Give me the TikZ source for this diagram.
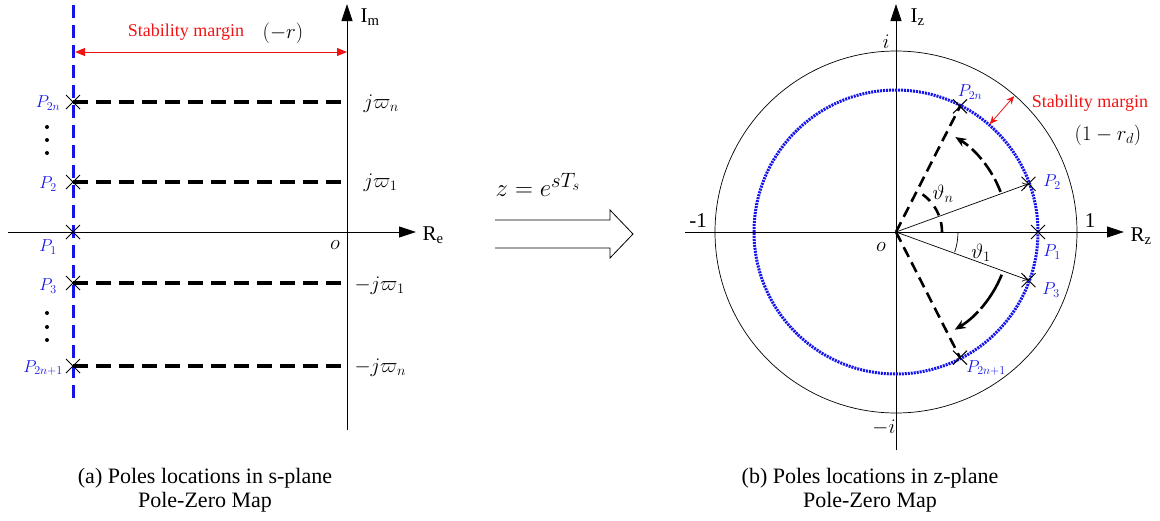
\documentclass[tikz,border=0pt]{standalone}
\usepackage{fontspec}
\setmainfont{Liberation Serif}
\usetikzlibrary{arrows.meta,shapes.misc}
\definecolor{pblue}{RGB}{20,20,235}
\definecolor{mred}{RGB}{240,20,20}
\tikzset{
  axis/.style={line width=0.8pt,-{Triangle[length=17pt,width=11pt]}},
  pole/.style={cross out,draw=black,line width=1pt,minimum size=13pt,inner sep=0pt},
  plab/.style={text=pblue,font=\fontsize{18}{20}\selectfont},
  lab/.style={font=\fontsize{21}{24}\selectfont},
  redtxt/.style={text=mred,font=\fontsize{18}{20}\selectfont},
  hdash/.style={line width=3.5pt,dash pattern=on 15pt off 8pt},
  bdash/.style={pblue,line width=3pt,dash pattern=on 13pt off 7pt},
  margin/.style={mred,line width=1pt,{Triangle[length=10pt,width=8pt]}-{Triangle[length=10pt,width=8pt]}},
  dotc/.style={pblue,line width=3pt,dash pattern=on 2pt off 1pt},
  ellip/.style={circle,fill=black,inner sep=0pt,minimum size=4pt},
  captxt/.style={font=\fontsize{22}{24}\selectfont,align=center}
}
\begin{document}
\begin{tikzpicture}[x=1pt,y=-1pt]
\useasboundingbox (0,0) rectangle (1160,520);
% ---------- left panel ----------
\coordinate (reL) at (8,232);
\coordinate (reR) at (416,232);
\coordinate (imB) at (347,430);
\coordinate (imT) at (347,4);
\draw[axis] (reL) -- (reR);
\draw[axis] (imB) -- (imT);
\node[lab,anchor=west] (Im) at (357,17) {I\textsubscript{m}};
\node[lab,anchor=west] (Re) at (419,235) {R\textsubscript{e}};
\node[lab] (o1) at (335,245) {$o$};
\coordinate (bT) at (73,5);
\coordinate (bB) at (73,405);
\draw[bdash] (bT) -- (bB);
\coordinate (mA) at (75,52);
\coordinate (mB) at (347,52);
\draw[margin] (mA) -- (mB);
\node[redtxt] (sm1) at (186,32) {Stability margin};
\node[lab] (mr) at (283,33) {$(-r)$};
% poles
\node[pole] (p2n) at (73,102) {};
\node[pole] (p2) at (73,182) {};
\node[pole] (p1) at (73,232) {};
\node[pole] (p3) at (73,283) {};
\node[pole] (p2n1) at (73,366) {};
\coordinate (a2n) at (347,102);
\coordinate (a2) at (347,182);
\coordinate (a3) at (347,283);
\coordinate (a2n1) at (347,366);
\draw[hdash] (p2n.center) -- (a2n);
\draw[hdash] (p2.center) -- (a2);
\draw[hdash] (p3.center) -- (a3);
\draw[hdash] (p2n1.center) -- (a2n1);
\node[plab] (lp2n) at (48,103) {$P_{2n}$};
\node[plab] (lp2) at (48,184) {$P_2$};
\node[plab] (lp1) at (48,247) {$P_1$};
\node[plab] (lp3) at (48,286) {$P_3$};
\node[plab] (lp2n1) at (43,368) {$P_{2n+1}$};
\foreach \yy [count=\i] in {127,140,153,313,327,340} \node[ellip] (dt\i) at (47,\yy) {};
\node[lab,anchor=west] (w2n) at (360,104) {$j\varpi_n$};
\node[lab,anchor=west] (w2) at (360,183) {$j\varpi_1$};
\node[lab,anchor=west] (w3) at (351,286) {$-j\varpi_1$};
\node[lab,anchor=west] (w2n1) at (351,368) {$-j\varpi_n$};
% ---------- middle ----------
\node[font=\fontsize{31}{34}\selectfont] (map) at (538,185) {$z=e^{sT_s}$};
\draw[line width=0.8pt] (495,220) -- (610,220) -- (610,210) -- (633,234) -- (610,258) -- (610,248) -- (495,248);
% ---------- right panel ----------
\coordinate (rzL) at (685,232);
\coordinate (rzR) at (1124,232);
\coordinate (izB) at (896,450);
\coordinate (izT) at (896,4);
\draw[axis] (rzL) -- (rzR);
\draw[axis] (izB) -- (izT);
\node[lab,anchor=west] (Iz) at (907,17) {I\textsubscript{z}};
\node[lab,anchor=west] (Rz) at (1127,236) {R\textsubscript{z}};
\begin{scope}[shift={(896,232)},y=1pt]
  \coordinate (O) at (0,0);
  \draw[line width=0.7pt] (O) circle[radius=181];
  \draw[dotc] (O) circle[radius=142];
  \node[pole] (q2n) at (63:141) {};
  \node[pole] (q2) at (20:141) {};
  \node[pole] (q1) at (0:142) {};
  \node[pole] (q3) at (-20:141) {};
  \node[pole] (q2n1) at (-63:141) {};
  \draw[line width=0.7pt,-{To[length=6pt,width=7pt]}] (O) -- (q2.center);
  \draw[line width=0.7pt,-{To[length=6pt,width=7pt]}] (O) -- (q3.center);
  \draw[line width=2.6pt,dash pattern=on 11pt off 6pt] (O) -- (q2n.center);
  \draw[line width=2.6pt,dash pattern=on 11pt off 6pt] (O) -- (q2n1.center);
  \draw[line width=2.6pt,dash pattern=on 10pt off 7pt] (46,0) arc[start angle=0,end angle=63,radius=46];
  \draw[line width=0.7pt] (62,0) arc[start angle=0,end angle=-19,radius=62];
  \draw[line width=2.6pt,dash pattern=on 14pt off 5pt,-{Stealth[length=11pt,width=9pt]}] (21:112) arc[start angle=21,end angle=58,radius=112];
  \draw[line width=2.6pt,dash pattern=on 40pt off 4pt,-{Stealth[length=11pt,width=9pt]}] (-22:114) arc[start angle=-22,end angle=-59,radius=114];
  \coordinate (mi) at (49:143);
  \coordinate (mo) at (49:180);
  \draw[margin,line width=0.8pt,{Stealth[length=8pt,width=7pt]}-{Stealth[length=8pt,width=7pt]}] (mi) -- (mo);
\end{scope}
\node[lab] (oz) at (881,247) {$o$};
\node[lab] (ii) at (886,42) {$i$};
\node[lab] (mii) at (884,428) {$-i$};
\node[lab] (m1) at (698,221) {-1};
\node[lab] (one) at (1090,221) {1};
\node[lab] (thn) at (943,194) {$\vartheta_n$};
\node[lab] (th1) at (981,253) {$\vartheta_1$};
\node[redtxt] (sm2) at (1090,103) {Stability margin};
\node[lab] (rd) at (1108,135) {$\left(1-r_d\right)$};
\node[plab] (lq2n) at (970,92) {$P_{2n}$};
\node[plab] (lq2) at (1052,182) {$P_2$};
\node[plab] (lq1) at (1052,252) {$P_1$};
\node[plab] (lq3) at (1051,290) {$P_3$};
\node[plab] (lq2n1) at (986,368) {$P_{2n+1}$};
% ---------- captions ----------
\node[captxt] (capa) at (205,490) {(a) Poles locations in s-plane\\Pole-Zero Map};
\node[captxt] (capb) at (870,490) {(b) Poles locations in z-plane\\Pole-Zero Map};
\end{tikzpicture}
\end{document}
